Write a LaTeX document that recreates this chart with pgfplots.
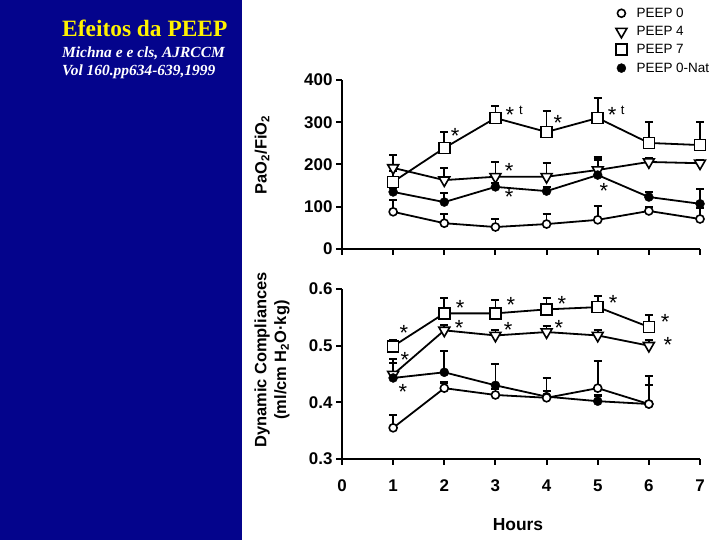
\documentclass[border=0pt]{standalone}
\usepackage{fontspec}
\setmainfont{Liberation Sans}
\newfontfamily\timesf{Liberation Serif}
\usepackage{pgfplots}
\pgfplotsset{compat=1.18}
\usepackage{pgfplotstable}
\definecolor{navy}{RGB}{4,4,140}

% top panel: PaO2/FiO2
\pgfplotstableread{
x y e
1 88 28
2 61 22
3 52 19
4 59 24
5 69 33
6 90 10
7 71 26
}\topA
\pgfplotstableread{
x y e
1 192 30
2 163 29
3 171 35
4 171 32
5 187 25
6 206 8
7 203 8
}\topB
\pgfplotstableread{
x y e
1 159 25
2 239 38
3 310 28
4 277 50
5 310 47
6 251 50
7 246 55
}\topC
\pgfplotstableread{
x y e
1 135 10
2 111 21
3 147 10
4 137 10
5 175 43
6 123 12
7 107 35
}\topD
% bottom panel: dynamic compliances
\pgfplotstableread{
x y e
1 0.355 0.023
2 0.425 0.010
3 0.413 0.010
4 0.408 0.035
5 0.425 0.048
6 0.397 0.033
}\botA
\pgfplotstableread{
x y e
1 0.449 0.020
2 0.527 0.010
3 0.518 0.010
4 0.524 0.010
5 0.518 0.010
6 0.500 0.010
}\botB
\pgfplotstableread{
x y e
1 0.499 0.010
2 0.557 0.027
3 0.557 0.023
4 0.564 0.020
5 0.568 0.020
6 0.533 0.021
}\botC
\pgfplotstableread{
x y e
1 0.443 0.033
2 0.453 0.037
3 0.430 0.037
4 0.410 0.010
5 0.402 0.010
6 0.397 0.049
}\botD

\pgfplotsset{
  myaxis/.style={
    scale only axis, width=358bp, xmin=0, xmax=7, enlargelimits=false, clip=false,
    axis x line=bottom, axis y line=left,
    axis line style={-, line width=2.5bp, black},
    tick align=outside, major tick length=6bp,
    tick style={line width=2bp, black},
    tick label style={font=\fontsize{17}{17}\selectfont\bfseries},
    /pgf/number format/assume math mode=true,
    xtick={0,1,...,7},
  },
  ln/.style={black, line width=1.8bp, no marks,
    error bars/.cd, y dir=plus, y explicit,
    error bar style={line width=1.8bp, black},
    error mark options={rotate=90, line width=2.2bp, mark size=4bp, black}},
  p0/.style={black, only marks, mark=*, mark size=4bp, mark options={fill=white, line width=1.6bp}},
  p4/.style={black, only marks, mark=triangle*, mark size=6.3bp, mark options={rotate=180, fill=white, line width=1.6bp}},
  p7/.style={black, only marks, mark=square*, mark size=5.5bp, mark options={fill=white, line width=1.6bp}},
  pn/.style={black, only marks, mark=*, mark size=4.5bp, mark options={fill=black}},
}
\tikzset{
  st/.style={font=\fontsize{22}{22}\selectfont, inner sep=0, yshift=-4.5bp},
  tt/.style={font=\fontsize{13}{13}\selectfont, inner sep=0},
}

\begin{document}
\begin{tikzpicture}[x=1bp,y=1bp]
\fill[white] (0,0) rectangle (720,540);
\fill[navy] (0,0) rectangle (242,540);
\node[anchor=base west, text=yellow, inner sep=0, font=\timesf\bfseries\fontsize{23.5}{28}\selectfont] at (62,503) {Efeitos da PEEP};
\node[anchor=base west, text=white, inner sep=0, font=\timesf\bfseries\itshape\fontsize{15.5}{18}\selectfont] at (62,482) {Michna e e cls, AJRCCM};
\node[anchor=base west, text=white, inner sep=0, font=\timesf\bfseries\itshape\fontsize{15.5}{18}\selectfont] at (62,464) {Vol 160.pp634-639,1999};

% top axis
\begin{axis}[myaxis, at={(342bp,291bp)}, anchor=south west, height=169bp,
  ymin=0, ymax=400, ytick={0,100,...,400}, xticklabels={,,,,,,,},
  legend image code/.code={\path (-6bp,0bp) (13bp,0bp); \draw[#1] plot coordinates {(0bp,0bp)};},
  legend style={at={(0.7626,1.44)}, anchor=north west, draw=none, fill=none,
    font=\fontsize{13.5}{13.5}\selectfont, row sep=3.5bp, inner sep=0pt},
  legend cell align=left]
\addlegendimage{p0}\addlegendentry{PEEP 0}
\addlegendimage{p4}\addlegendentry{PEEP 4}
\addlegendimage{p7}\addlegendentry{PEEP 7}
\addlegendimage{pn}\addlegendentry{PEEP 0-Nat}
\addplot[ln] table[x=x,y=y,y error=e] {\topC};
\addplot[ln] table[x=x,y=y,y error=e] {\topB};
\addplot[ln] table[x=x,y=y,y error=e] {\topD};
\addplot[ln] table[x=x,y=y,y error=e] {\topA};
\addplot[p7] table[x=x,y=y] {\topC};
\addplot[p4] table[x=x,y=y] {\topB};
\addplot[pn] table[x=x,y=y] {\topD};
\addplot[p0] table[x=x,y=y] {\topA};
\node[st] at (axis cs:2.21,277) {*};
\node[st] at (axis cs:3.285,329) {*};
\node[tt] at (axis cs:3.50,329) {t};
\node[st] at (axis cs:4.22,308) {*};
\node[st] at (axis cs:5.28,329) {*};
\node[tt] at (axis cs:5.49,329) {t};
\node[st] at (axis cs:3.27,196) {*};
\node[st] at (axis cs:3.27,133) {*};
\node[st] at (axis cs:5.12,147) {*};
\end{axis}

% bottom axis
\begin{axis}[myaxis, at={(342bp,81bp)}, anchor=south west, height=170bp,
  ymin=0.3, ymax=0.6, ytick={0.3,0.4,0.5,0.6},
  yticklabel style={/pgf/number format/.cd, fixed, fixed zerofill, precision=1},
  xticklabel style={yshift=-11bp}]
\addplot[ln] table[x=x,y=y,y error=e] {\botC};
\addplot[ln] table[x=x,y=y,y error=e] {\botB};
\addplot[ln] table[x=x,y=y,y error=e] {\botD};
\addplot[ln] table[x=x,y=y,y error=e] {\botA};
\addplot[p7] table[x=x,y=y] {\botC};
\addplot[p4] table[x=x,y=y] {\botB};
\addplot[pn] table[x=x,y=y] {\botD};
\addplot[p0] table[x=x,y=y] {\botA};
\node[st] at (axis cs:1.21,0.531) {*};
\node[st] at (axis cs:1.23,0.483) {*};
\node[st] at (axis cs:1.19,0.427) {*};
\node[st] at (axis cs:2.31,0.575) {*};
\node[st] at (axis cs:2.29,0.540) {*};
\node[st] at (axis cs:3.30,0.580) {*};
\node[st] at (axis cs:3.25,0.536) {*};
\node[st] at (axis cs:4.30,0.582) {*};
\node[st] at (axis cs:4.24,0.540) {*};
\node[st] at (axis cs:5.30,0.584) {*};
\node[st] at (axis cs:6.32,0.550) {*};
\node[st] at (axis cs:6.37,0.510) {*};
\end{axis}

\node[rotate=90, font=\bfseries\fontsize{16.5}{16.5}\selectfont] at (262,385) {PaO\textsubscript{2}/FiO\textsubscript{2}};
\node[rotate=90, align=center, font=\bfseries\fontsize{16.5}{20}\selectfont] at (272,180) {Dynamic Compliances\\(ml/cm H\textsubscript{2}O·kg)};
\node[font=\bfseries\fontsize{17.5}{17.5}\selectfont] at (518,15) {Hours};

\pgfresetboundingbox
\path[use as bounding box] (0,0) rectangle (720,540);
\end{tikzpicture}
\end{document}
